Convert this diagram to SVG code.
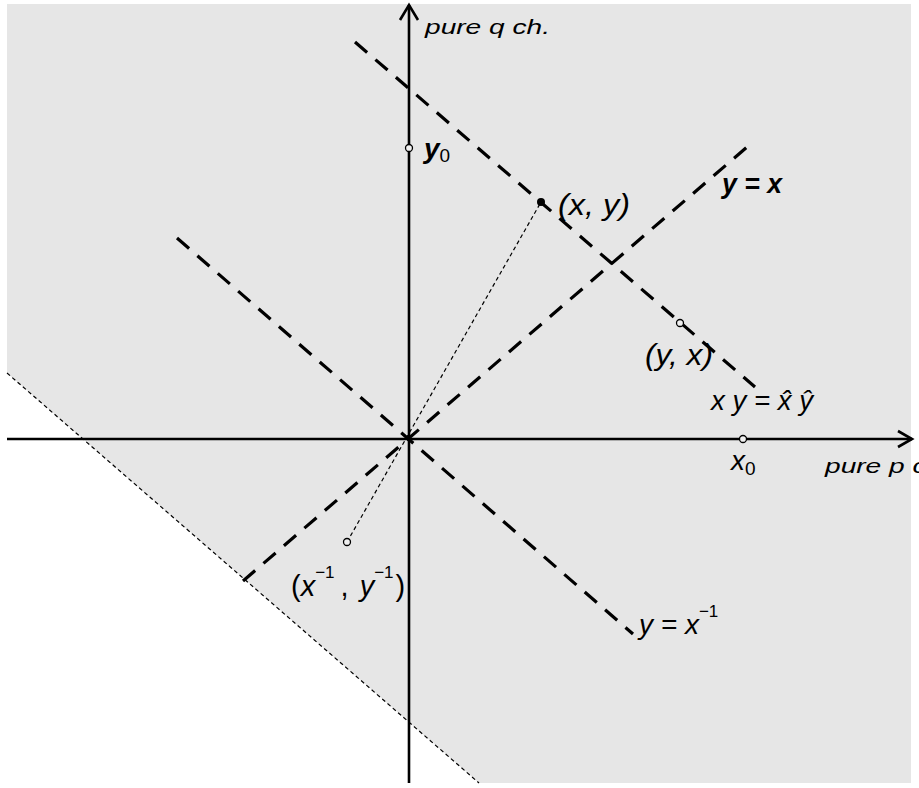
<svg xmlns="http://www.w3.org/2000/svg" width="919" height="788" viewBox="0 0 919 788">
<style>
.t{font-family:"Liberation Sans",Arial,sans-serif;font-style:italic;fill:#000}
.up{font-style:normal}
.b{font-weight:bold}
.ax{stroke:#000;stroke-width:2.6;fill:none}
.thick{stroke:#000;stroke-width:3.2;stroke-dasharray:16 11;fill:none}
.thin{stroke:#000;stroke-width:1.2;stroke-dasharray:4 3;fill:none}
.pt{fill:#f0f0f0;stroke:#000;stroke-width:1.3}
</style>
<rect width="919" height="788" fill="#fff"/>
<polygon points="7,4 911,4 911,783 479,783 7,373" fill="#e6e6e6"/>
<g id="connectors">
<line class="thin" x1="7" y1="373" x2="479" y2="783"/>
<line class="thin" x1="347" y1="542" x2="541" y2="202"/>
<line class="ax" x1="409" y1="5" x2="409" y2="783"/>
<line class="ax" x1="7" y1="439" x2="912" y2="439"/>
<polyline class="ax" points="400,20 409,5 418,20"/>
<polyline class="ax" points="898,431 912,439 898,447"/>
<line class="thick" x1="243" y1="581" x2="754" y2="141"/>
<line class="thick" x1="355" y1="42" x2="755" y2="387"/>
<line class="thick" x1="177" y1="238" x2="633" y2="634"/>
</g>
<g id="axis-q"><text class="t" x="425" y="34" font-size="21" textLength="125" lengthAdjust="spacingAndGlyphs">pure q ch.</text></g>
<g id="axis-p"><text class="t" x="825" y="473" font-size="21" textLength="125" lengthAdjust="spacingAndGlyphs">pure p ch.</text></g>
<g id="y0"><circle class="pt" cx="409" cy="148" r="3.5"/><text class="t b" x="424" y="158" font-size="28">y<tspan class="up" font-weight="normal" font-size="19" dy="4">0</tspan></text></g>
<g id="x0"><circle class="pt" cx="743" cy="439" r="3.5"/><text class="t" x="731" y="470" font-size="28">x<tspan class="up" font-size="19" dy="5">0</tspan></text></g>
<g id="xy"><circle cx="541" cy="202" r="4" fill="#000"/><text class="t" x="558" y="215" font-size="30" textLength="72" lengthAdjust="spacingAndGlyphs">(x, y)</text></g>
<g id="yx"><circle class="pt" cx="680" cy="323" r="3.5"/><text class="t" x="645" y="365" font-size="30" textLength="68" lengthAdjust="spacingAndGlyphs">(y, x)</text></g>
<g id="inv"><circle class="pt" cx="347" cy="542" r="3.5"/>
<text class="t" x="291" y="596" font-size="29"><tspan class="up">(</tspan>x<tspan class="up" font-size="17" dy="-18">−1</tspan><tspan class="up" dy="18" dx="6">,</tspan><tspan dx="11">y</tspan><tspan class="up" font-size="17" dy="-18">−1</tspan><tspan class="up" dy="18" dx="2">)</tspan></text></g>
<g id="label-yx"><text class="t b" x="722" y="193" font-size="27" textLength="60" lengthAdjust="spacingAndGlyphs">y = x</text></g>
<g id="label-hyp"><text class="t" x="711" y="410" font-size="27" textLength="102" lengthAdjust="spacingAndGlyphs">x y = x̂ ŷ</text></g>
<g id="label-inv"><text class="t" x="639" y="634" font-size="28">y = x<tspan class="up" font-size="17" dy="-17">−1</tspan></text></g>
</svg>
